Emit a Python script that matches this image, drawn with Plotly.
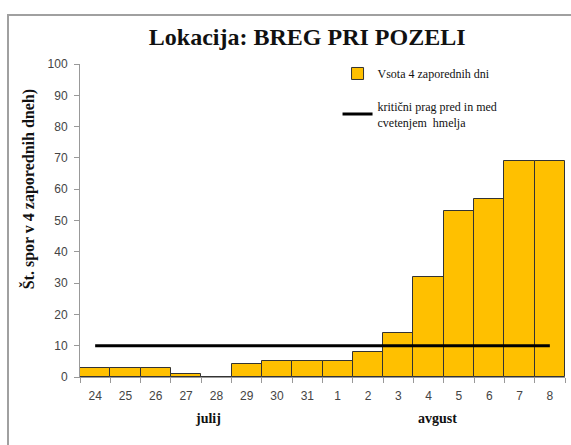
import plotly.graph_objects as go

days = ["24", "25", "26", "27", "28", "29", "30", "31", "1", "2", "3", "4", "5", "6", "7", "8"]
sums = [3, 3, 3, 1, 0, 4, 5, 5, 5, 8, 14, 32, 53, 57, 69, 69]
threshold = [10] * len(days)
y_ticks = [0, 10, 20, 30, 40, 50, 60, 70, 80, 90, 100]

xcat = list(range(len(days)))

fig = go.Figure()
fig.add_trace(go.Bar(
    x=xcat, y=sums, name="Vsota 4 zaporednih dni",
    marker=dict(color="#FFC000", line=dict(color="#333333", width=1)),
    legendgroup="a",
))
fig.add_trace(go.Scatter(
    x=xcat, y=threshold, mode="lines",
    name="kritični prag pred in med<br>cvetenjem  hmelja",
    line=dict(color="black", width=3),
    legendgroup="b",
))

serif = "Liberation Serif, Times New Roman, serif"
sans = "Liberation Sans, Arial, sans-serif"

fig.update_layout(
    width=571, height=445,
    margin=dict(l=80, r=6, t=64, b=68, autoexpand=False),
    paper_bgcolor="white", plot_bgcolor="white",
    bargap=0,
    showlegend=True,
    legend=dict(
        x=0.531, y=1.016, xanchor="left", yanchor="top",
        font=dict(family=serif, size=12, color="#111"),
        bgcolor="rgba(0,0,0,0)",
        traceorder="grouped", tracegroupgap=14,
        itemwidth=30,
    ),
    title=dict(
        text="<b>Lokacija: BREG PRI POZELI</b>",
        x=0.538, xanchor="center", y=0.917, yanchor="middle",
        font=dict(family=serif, size=24, color="#111"),
    ),
    xaxis=dict(
        type="linear", automargin=False,
        range=[-0.5, len(days) - 0.5],
        tickmode="array",
        tickvals=xcat, ticktext=days,
        ticks="", ticklabelstandoff=8,
        showline=True, linecolor="#999", linewidth=1,
        showgrid=False, zeroline=False,
        tickfont=dict(family=sans, size=12, color="#444"),
    ),
    yaxis=dict(
        range=[0, 100], automargin=False,
        tickmode="array", tickvals=y_ticks,
        ticks="outside", ticklen=5, tickcolor="#999", ticklabelstandoff=4,
        showline=True, linecolor="#999", linewidth=1,
        showgrid=False, zeroline=False,
        tickfont=dict(family=sans, size=12, color="#444"),
    ),
)

# tick marks between categories on x axis
fig.update_layout(xaxis2=dict(
    overlaying="x", anchor="y", range=[-0.5, len(days) - 0.5], automargin=False,
    tickmode="array", tickvals=[i - 0.5 for i in range(len(days) + 1)],
    ticktext=[""] * (len(days) + 1),
    ticks="outside", ticklen=5, tickcolor="#999", showgrid=False,
    zeroline=False, showline=False, side="bottom",
))
fig.add_trace(go.Scatter(x=[0], y=[0], xaxis="x2", mode="markers",
                         marker=dict(opacity=0), showlegend=False, hoverinfo="skip"))

fig.add_annotation(text="<b>Št. spor v 4 zaporednih dneh)</b>", x=-0.107, y=0.6,
                   xref="paper", yref="paper", textangle=-90, showarrow=False,
                   xanchor="center", yanchor="middle",
                   font=dict(family=serif, size=16, color="#111"))

for txt, xp in [("julij", 0.264), ("avgust", 0.738)]:
    fig.add_annotation(text="<b>" + txt + "</b>", x=xp, y=-0.131, xref="paper", yref="paper",
                       showarrow=False, xanchor="center", yanchor="middle",
                       font=dict(family=serif, size=14, color="#111"))

# outer chart border
fig.add_shape(type="rect", xref="paper", yref="paper",
              x0=-72 / 485, x1=1.1, y0=-0.3, y1=(377 - 15) / 313,
              line=dict(color="#A0A0A0", width=2), fillcolor="rgba(0,0,0,0)", layer="below")

fig.write_html("out.html", config={"displayModeBar": False},
               post_script="document.body.style.margin='0';document.body.style.overflow='hidden';")
